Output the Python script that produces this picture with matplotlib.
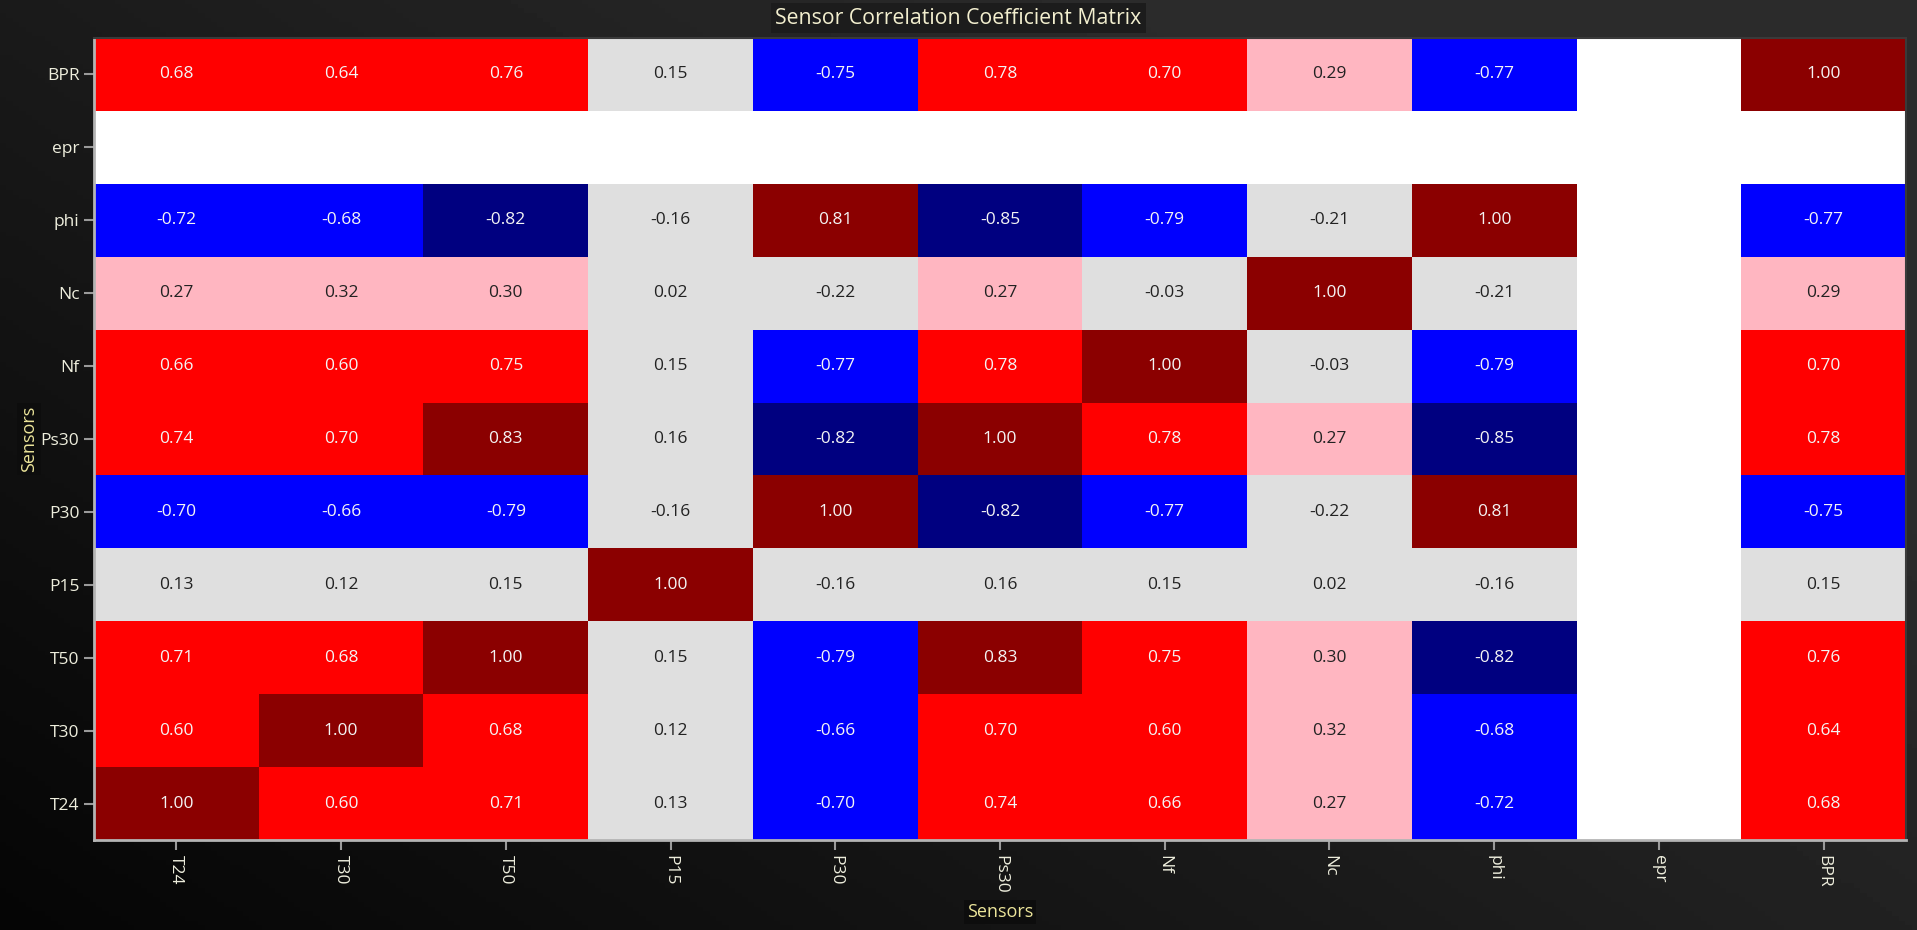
import numpy as np
import matplotlib
matplotlib.use("Agg")
import matplotlib.pyplot as plt
from matplotlib.colors import ListedColormap, BoundaryNorm

plt.rcParams['font.family'] = ['Open Sans', 'DejaVu Sans']

sensors = ['T24', 'T30', 'T50', 'P15', 'P30', 'Ps30', 'Nf', 'Nc', 'phi', 'epr', 'BPR']
nan = np.nan

# correlation rows, in the order of `sensors`
r_T24 = [1.00, 0.60, 0.71, 0.13, -0.70, 0.74, 0.66, 0.27, -0.72, nan, 0.68]
r_T30 = [0.60, 1.00, 0.68, 0.12, -0.66, 0.70, 0.60, 0.32, -0.68, nan, 0.64]
r_T50 = [0.71, 0.68, 1.00, 0.15, -0.79, 0.83, 0.75, 0.30, -0.82, nan, 0.76]
r_P15 = [0.13, 0.12, 0.15, 1.00, -0.16, 0.16, 0.15, 0.02, -0.16, nan, 0.15]
r_P30 = [-0.70, -0.66, -0.79, -0.16, 1.00, -0.82, -0.77, -0.22, 0.81, nan, -0.75]
r_Ps30 = [0.74, 0.70, 0.83, 0.16, -0.82, 1.00, 0.78, 0.27, -0.85, nan, 0.78]
r_Nf = [0.66, 0.60, 0.75, 0.15, -0.77, 0.78, 1.00, -0.03, -0.79, nan, 0.70]
r_Nc = [0.27, 0.32, 0.30, 0.02, -0.22, 0.27, -0.03, 1.00, -0.21, nan, 0.29]
r_phi = [-0.72, -0.68, -0.82, -0.16, 0.81, -0.85, -0.79, -0.21, 1.00, nan, -0.77]
r_epr = [nan] * 11
r_BPR = [0.68, 0.64, 0.76, 0.15, -0.75, 0.78, 0.70, 0.29, -0.77, nan, 1.00]

corr = np.array([r_T24, r_T30, r_T50, r_P15, r_P30, r_Ps30, r_Nf, r_Nc, r_phi, r_epr, r_BPR])

# discrete colour bands
bounds = [-1.0, -0.8, -0.5, -0.25, 0.25, 0.5, 0.8, 1.0001]
band_colors = ['#000080', '#0000ff', '#add8e6', '#dfdfdf', '#ffb6c1', '#ff0000', '#8b0000']
cmap = ListedColormap(band_colors)
cmap.set_bad('white')
norm = BoundaryNorm(bounds, cmap.N)

fig = plt.figure(figsize=(19.17, 9.30), dpi=100)

# dark gradient background
bg = fig.add_axes([0, 0, 1, 1], zorder=-10)
gx, gy = np.meshgrid(np.linspace(0, 1, 300), np.linspace(0, 1, 200))
grad = np.clip(0.75 * gx + 0.55 * gy, 0, 1)
bg.imshow(grad, cmap=ListedColormap(plt.cm.gray(np.linspace(0.02, 0.17, 256))),
          origin='lower', aspect='auto', extent=[0, 1, 0, 1])
bg.axis('off')

W, H = 1917, 930
ax = fig.add_axes([94 / W, 1 - 840 / H, (1906 - 94) / W, (840 - 38) / H])
ax.pcolormesh(np.ma.masked_invalid(corr), cmap=cmap, norm=norm)
ax.set_xlim(0, len(sensors))
ax.set_ylim(0, len(sensors))

for i in range(len(sensors)):
    for j in range(len(sensors)):
        v = corr[i, j]
        if np.isnan(v):
            continue
        light = -0.5 < v < 0.5
        ax.text(j + 0.5, i + 0.5, f"{v:.2f}", ha='center', va='center',
                fontsize=12.5, color='#222222' if light else '#f4f4f4')

ax.set_xticks(np.arange(len(sensors)) + 0.5)
ax.set_yticks(np.arange(len(sensors)) + 0.5)
ax.set_xticklabels(sensors, rotation=-90, fontsize=12.5, color='#eeeedd')
ax.set_yticklabels(sensors, fontsize=12.5, color='#eeeedd')
ax.tick_params(axis='both', colors='#9a9a9a', length=7, width=1.5)
ax.tick_params(axis='both', labelcolor='#eeeedd')

for side in ['left', 'bottom']:
    ax.spines[side].set_color('#b4b4b4')
    ax.spines[side].set_linewidth(2)
for side in ['top', 'right']:
    ax.spines[side].set_color('#3a3a3a')
    ax.spines[side].set_linewidth(1.5)

ax.set_xlabel('Sensors', fontsize=13, color='#ece59a', labelpad=7,
              bbox=dict(facecolor='#0d0d0d', edgecolor='none', pad=2))
ax.set_ylabel('Sensors', fontsize=13, color='#ece59a', labelpad=2,
              bbox=dict(facecolor='#0d0d0d', edgecolor='none', pad=2))

fig.text(0.5, 1 - 18 / H, 'Sensor Correlation Coefficient Matrix', ha='center', va='center',
         fontsize=15.3, color='#f3efcf',
         bbox=dict(facecolor='#1c1c1c', edgecolor='none', pad=3))

fig.savefig('out.png', dpi=100)
